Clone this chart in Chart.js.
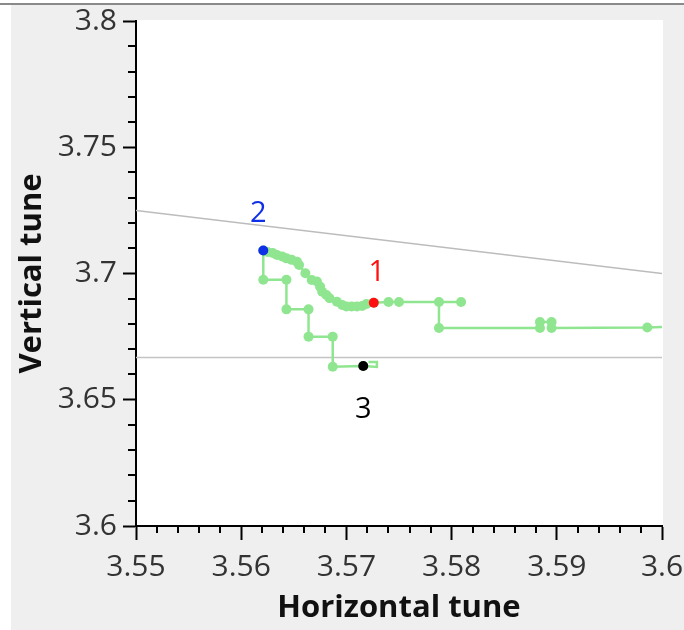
<!DOCTYPE html>
<html>
<head>
<meta charset="utf-8">
<script src="https://cdn.jsdelivr.net/npm/chart.js@4.4.1/dist/chart.umd.min.js"></script>
<style>
  html, body { margin: 0; padding: 0; background: #fff; }
  #tuneChart { display: block; }
</style>
</head>
<body>
<canvas id="tuneChart" width="684" height="630"></canvas>
<script>
// Axis ticks
const xTicks = [3.55, 3.56, 3.57, 3.58, 3.59, 3.6];
const yTicks = [3.6, 3.65, 3.7, 3.75, 3.8];

// Tune footprint, from the right end back to point 3
const pathQx = [
  3.6045, 3.5986, 3.5895, 3.5895, 3.5884, 3.5884, 3.5788, 3.5788, 3.5809, 3.5750, 3.5740,
  3.5726, 3.5719, 3.5715, 3.5710, 3.5705, 3.5700, 3.5696, 3.5691, 3.5684, 3.5681, 3.5677,
  3.5675, 3.5672, 3.5667, 3.5661, 3.5655, 3.5653, 3.5648, 3.5643, 3.5639, 3.5634, 3.5630,
  3.5625, 3.5621,
  3.5621, 3.5643, 3.5643, 3.5664, 3.5664, 3.5687, 3.5687, 3.5716, 3.5729, 3.5729, 3.5721
];
const pathQy = [
  3.6793, 3.6786, 3.6784, 3.6808, 3.6808, 3.6784, 3.6784, 3.6887, 3.6887, 3.6887, 3.6887,
  3.6884, 3.6879, 3.6871, 3.6869, 3.6869, 3.6869, 3.6875, 3.6888, 3.6902, 3.6915, 3.6928,
  3.6948, 3.6968, 3.6974, 3.7001, 3.7034, 3.7047, 3.7054, 3.7060, 3.7067, 3.7073, 3.7081,
  3.7085, 3.7091,
  3.6975, 3.6975, 3.6858, 3.6858, 3.6750, 3.6750, 3.6631, 3.6634, 3.6630, 3.6650, 3.6650
];
// the last few samples form the small loop at point 3 and carry no dot
const loopStart = pathQx.length - 3;

// Numbered working points
const markNames = ['1', '2', '3'];
const markQx = [3.5726, 3.5621, 3.5716];
const markQy = [3.6884, 3.7091, 3.6634];
const markColors = ['#ff1010', '#1030e8', '#000000'];

// Resonance lines: Qx + 2Qy = 11 and Qy = 11/3
const resonanceA = { qx: [3.55, 3.6], qy: [3.725, 3.7] };
const resonanceB = { qx: [3.55, 3.6], qy: [3.6667, 3.6667] };

const toPoints = (xs, ys) => xs.map((v, i) => ({ x: v, y: ys[i] }));

const panelBackground = {
  id: 'panelBackground',
  beforeDraw(chart) {
    const { ctx, width, height, chartArea: a } = chart;
    ctx.save();
    ctx.fillStyle = '#ffffff';
    ctx.fillRect(0, 0, width, height);
    ctx.fillStyle = '#efefef';
    ctx.fillRect(11, 5, width - 11, height - 5);
    ctx.fillStyle = '#8a8a8a';
    ctx.fillRect(0, 3, width, 2);
    ctx.fillStyle = '#ffffff';
    ctx.fillRect(a.left, a.top - 1, a.right - a.left + 1, a.bottom - a.top + 1);
    ctx.restore();
  }
};

const minorTicks = {
  id: 'minorTicks',
  afterDraw(chart) {
    const { ctx, scales: { x, y } } = chart;
    ctx.save();
    ctx.strokeStyle = '#000';
    ctx.lineWidth = 2;
    ctx.beginPath();
    for (let i = 0; i < xTicks.length - 1; i++) {
      const step = (xTicks[i + 1] - xTicks[i]) / 5;
      for (let k = 1; k < 5; k++) {
        const px = Math.round(x.getPixelForValue(xTicks[i] + k * step));
        ctx.moveTo(px, y.bottom);
        ctx.lineTo(px, y.bottom + 7);
      }
    }
    for (let i = 0; i < yTicks.length - 1; i++) {
      const step = (yTicks[i + 1] - yTicks[i]) / 5;
      for (let k = 1; k < 5; k++) {
        const py = Math.round(y.getPixelForValue(yTicks[i] + k * step));
        ctx.moveTo(x.left, py);
        ctx.lineTo(x.left - 8, py);
      }
    }
    ctx.stroke();
    ctx.restore();
  }
};

const markLabels = {
  id: 'markLabels',
  afterDatasetsDraw(chart) {
    const { ctx, scales: { x, y } } = chart;
    const offsets = [[3, -30], [-5, -37], [0, 44]];
    ctx.save();
    ctx.font = '29px "Open Sans"';
    ctx.textAlign = 'center';
    ctx.textBaseline = 'middle';
    markNames.forEach((name, i) => {
      ctx.fillStyle = markColors[i];
      ctx.fillText(name,
        x.getPixelForValue(markQx[i]) + offsets[i][0],
        y.getPixelForValue(markQy[i]) + offsets[i][1]);
    });
    ctx.restore();
  }
};

const tickFont = { family: '"Open Sans"', size: 30 };
const titleFont = { family: '"Open Sans"', size: 31, weight: 'bold' };

new Chart(document.getElementById('tuneChart'), {
  type: 'scatter',
  data: {
    datasets: [
      {
        label: 'marks',
        data: toPoints(markQx, markQy),
        pointRadius: 5,
        pointBackgroundColor: markColors,
        pointBorderWidth: 0,
        order: 0
      },
      {
        label: 'tune path',
        data: toPoints(pathQx, pathQy),
        showLine: true,
        borderColor: '#90e690',
        borderWidth: 2.5,
        pointRadius: (c) => (c.dataIndex >= loopStart ? 0 : 5),
        pointBackgroundColor: '#90e690',
        pointBorderWidth: 0,
        order: 1
      },
      {
        label: 'Qx + 2Qy = 11',
        data: toPoints(resonanceA.qx, resonanceA.qy),
        showLine: true,
        borderColor: '#bcbcbc',
        borderWidth: 1.5,
        pointRadius: 0,
        order: 2
      },
      {
        label: 'Qy = 11/3',
        data: toPoints(resonanceB.qx, resonanceB.qy),
        showLine: true,
        borderColor: '#c4c4c4',
        borderWidth: 1.5,
        pointRadius: 0,
        order: 2
      }
    ]
  },
  options: {
    responsive: false,
    animation: false,
    layout: { padding: { left: 0, top: 21, right: 22, bottom: 0 } },
    plugins: {
      legend: { display: false },
      tooltip: { enabled: false }
    },
    scales: {
      x: {
        type: 'linear',
        min: 3.55,
        max: 3.6,
        afterBuildTicks: (scale) => { scale.ticks = xTicks.map(v => ({ value: v })); },
        afterFit: (scale) => { scale.height = 104; scale.paddingLeft = 0; scale.paddingRight = 0; },
        border: { display: true, color: '#000', width: 2 },
        grid: { drawOnChartArea: false, drawTicks: true, tickLength: 14, tickColor: '#000', tickWidth: 2 },
        ticks: { font: tickFont, color: '#333', padding: 9, maxRotation: 0, autoSkip: false, callback: (v) => String(v) },
        title: { display: true, text: 'Horizontal tune', font: titleFont, color: '#111', padding: { top: 0, bottom: 3 } }
      },
      y: {
        type: 'linear',
        min: 3.6,
        max: 3.8,
        afterBuildTicks: (scale) => { scale.ticks = yTicks.map(v => ({ value: v })); },
        afterFit: (scale) => { scale.width = 136; scale.paddingTop = 0; scale.paddingBottom = 0; },
        border: { display: true, color: '#000', width: 2 },
        grid: { drawOnChartArea: false, drawTicks: true, tickLength: 13, tickColor: '#000', tickWidth: 2 },
        ticks: { font: tickFont, color: '#333', padding: 6, autoSkip: false, callback: (v) => String(v) },
        title: { display: true, text: 'Vertical tune', font: titleFont, color: '#111', padding: { top: 14, bottom: 0 } }
      }
    }
  },
  plugins: [panelBackground, minorTicks, markLabels]
});
</script>
</body>
</html>
